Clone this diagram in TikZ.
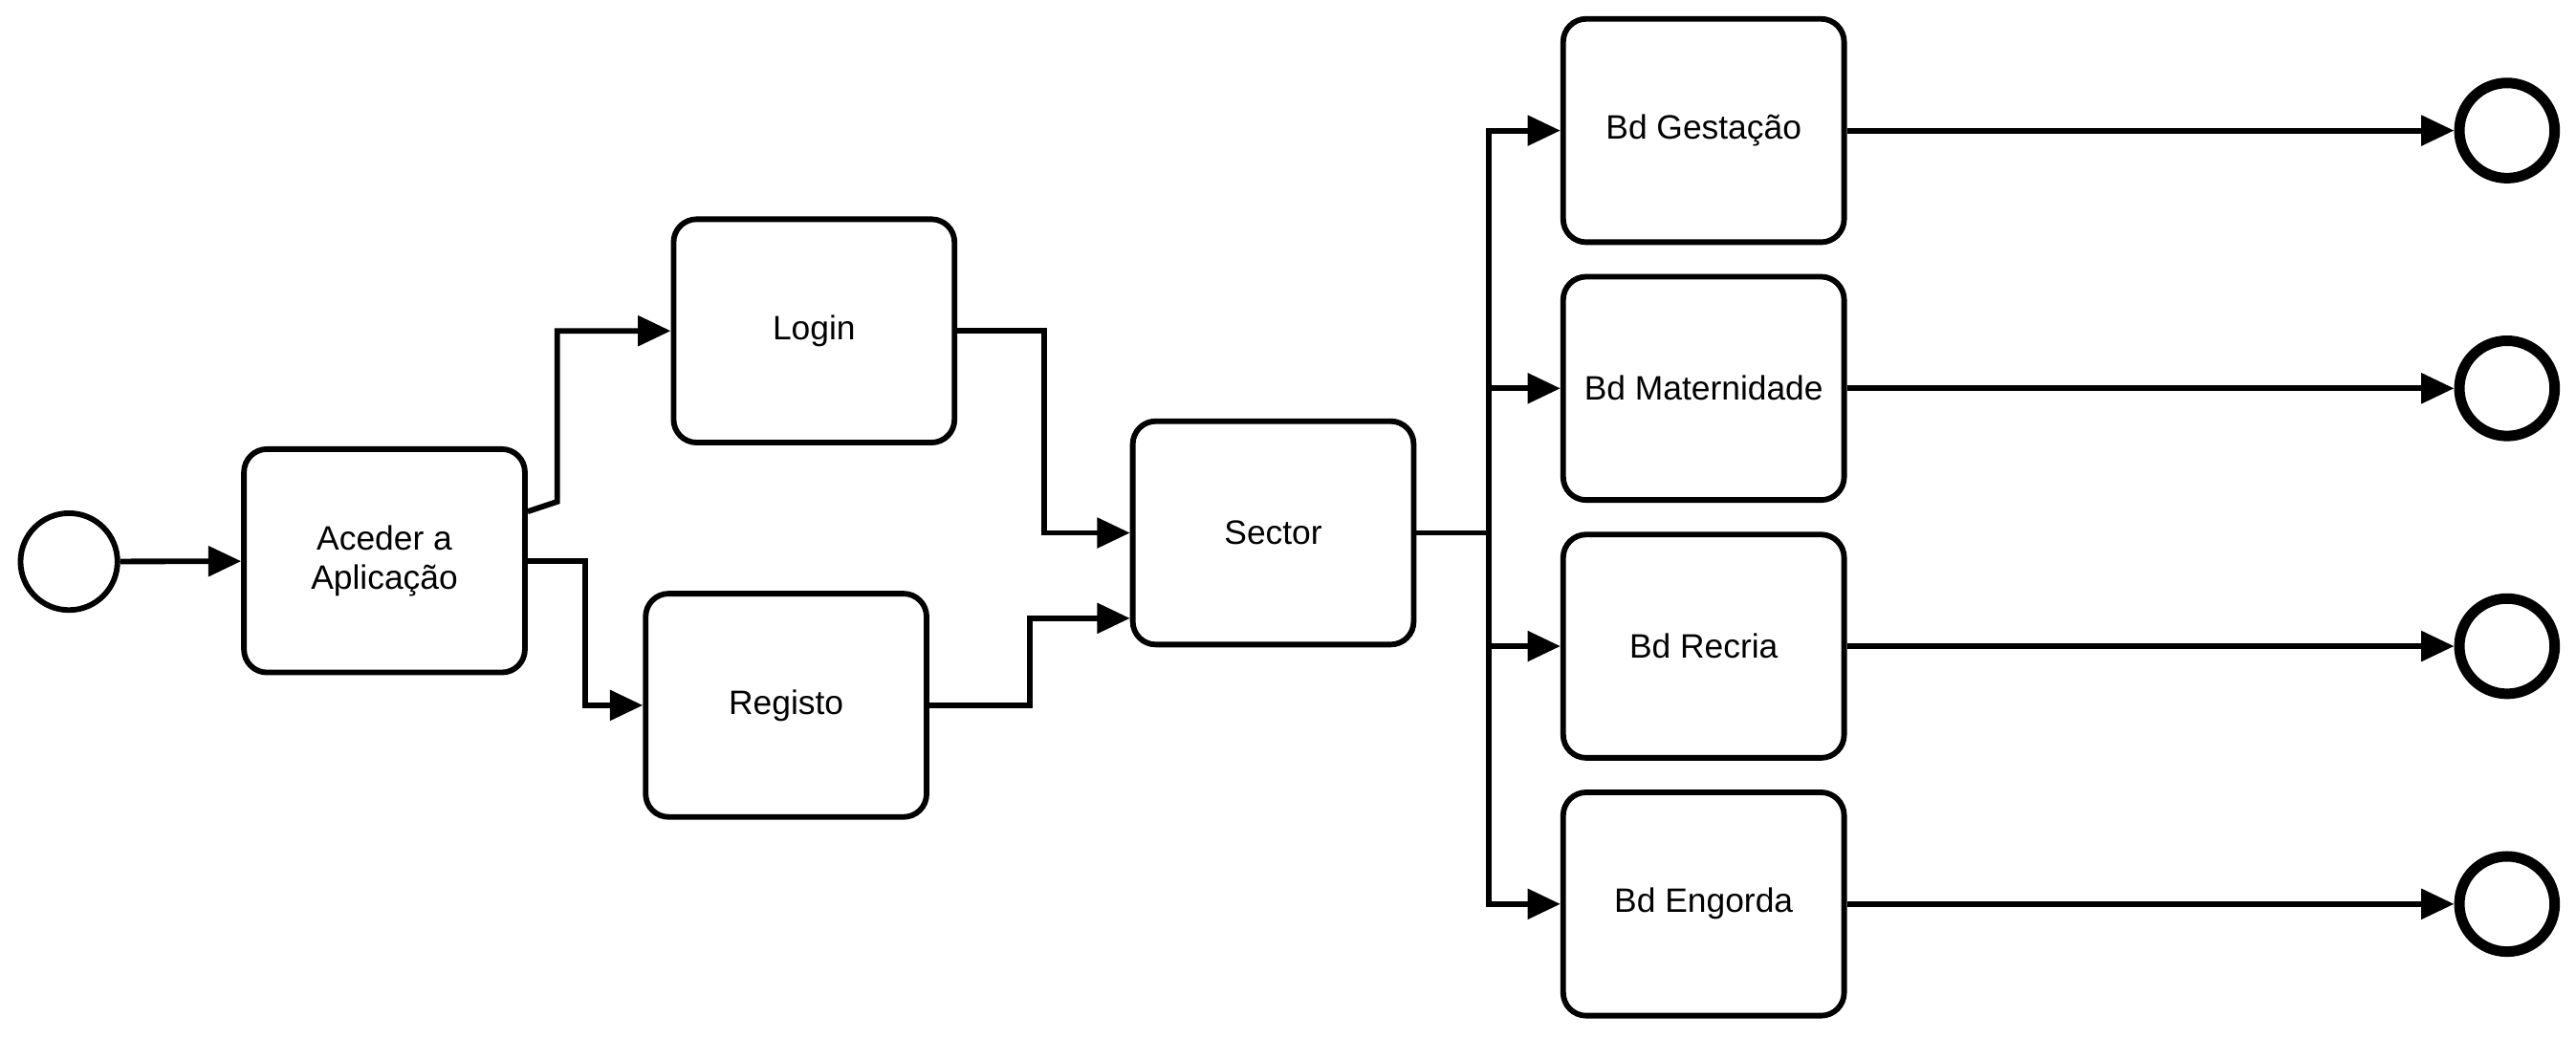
\documentclass[tikz,border=0pt]{standalone}
\usepackage{fontspec}
\setmainfont{Liberation Sans}
\usetikzlibrary{arrows.meta,calc}

\begin{document}
\begin{tikzpicture}[x=0.5pt,y=0.5pt,>={Triangle[length=10pt,width=9pt]},line width=1.7pt,
  task/.style={draw,rounded corners=7pt,minimum width=85.5pt,minimum height=68pt,
    align=center,font=\fontsize{10.3}{12}\selectfont},
  startev/.style={draw,circle,minimum size=29.5pt,inner sep=0pt},
  endev/.style={draw,circle,minimum size=29pt,inner sep=0pt,line width=3.2pt}]

\useasboundingbox (0,0) rectangle (1568,632);

% inicio
\node[startev] (start) at (42,290) {};

% tarefas
\node[task] (aceder) at (234,290.5) {Aceder a\\Aplicação};
\node[task] (login) at (495.5,430.5) {Login};
\node[task] (registo) at (478.5,202.5) {Registo};
\node[task] (sector) at (775,307.5) {Sector};

% bases de dados
\node[task] (gest) at (1037,552.5) {Bd Gestação};
\node[task] (mat) at (1037,395.5) {Bd Maternidade};
\node[task] (recria) at (1037,238.5) {Bd Recria};
\node[task] (engorda) at (1037,81.5) {Bd Engorda};

% fim
\foreach \b in {gest,mat,recria,engorda}
  \node[endev] (\b end) at (1526,0 |- \b) {};

% ligacoes
\draw[->] (start) -- (aceder);
\draw[->] ($(aceder.east)+(0,30)$) -- ++(18,6) |- (login);
\draw[->] (aceder.east) -- ++(35,0) |- (registo);
\draw[->] (login.east) -- ++(53,0) |- (sector);
\draw[->] (registo.east) -- ++(61,0) |- ($(sector.west)+(0,-52)$);

\draw (sector.east) -- ++(44,0) coordinate (fork);
\foreach \b in {gest,mat,recria,engorda}{
  \draw[->] (fork) |- (\b);
  \draw[->] (\b) -- (\b end);
}

\end{tikzpicture}
\end{document}
